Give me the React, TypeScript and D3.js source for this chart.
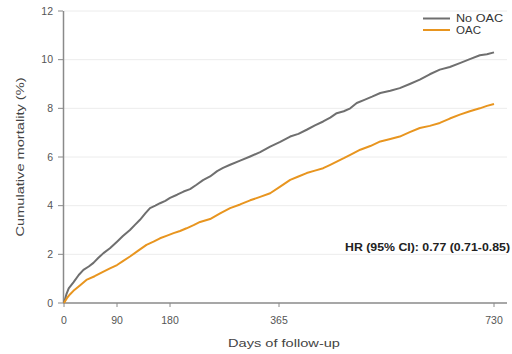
import React from "react";
import * as d3 from "d3";

const noOacDays = [0, 4, 8, 16, 25, 33, 42, 50, 58, 67, 78, 90, 100, 112, 120, 129, 138, 146, 155, 163, 172, 180, 192, 203, 214, 225, 236, 248, 260, 270, 282, 299, 316, 333, 350, 367, 384, 398, 412, 426, 440, 452, 463, 475, 486, 497, 510, 523, 537, 554, 570, 587, 604, 621, 638, 655, 672, 689, 706, 718, 730];
const noOacValues = [0, 0.35, 0.6, 0.85, 1.15, 1.36, 1.5, 1.65, 1.85, 2.05, 2.25, 2.52, 2.75, 3.0, 3.2, 3.42, 3.68, 3.9, 4.0, 4.1, 4.2, 4.32, 4.45, 4.58, 4.68, 4.86, 5.05, 5.2, 5.42, 5.55, 5.68, 5.85, 6.02, 6.2, 6.43, 6.62, 6.84, 6.95, 7.12, 7.3, 7.46, 7.62, 7.8, 7.88, 8.0, 8.22, 8.35, 8.48, 8.63, 8.72, 8.83, 9.0, 9.18, 9.4, 9.59, 9.7, 9.86, 10.02, 10.18, 10.22, 10.3];

const oacDays = [0, 5, 10, 16, 27, 38, 52, 67, 78, 90, 100, 112, 126, 140, 152, 163, 175, 186, 197, 208, 220, 231, 248, 265, 282, 299, 316, 333, 350, 367, 384, 398, 412, 426, 440, 452, 463, 475, 486, 503, 520, 537, 554, 570, 587, 604, 621, 638, 655, 672, 689, 706, 718, 730];
const oacValues = [0, 0.2, 0.35, 0.5, 0.72, 0.95, 1.1, 1.29, 1.42, 1.56, 1.72, 1.91, 2.15, 2.39, 2.52, 2.66, 2.77, 2.87, 2.96, 3.07, 3.2, 3.33, 3.45, 3.68, 3.9, 4.05, 4.22, 4.36, 4.51, 4.78, 5.06, 5.2, 5.34, 5.44, 5.54, 5.68, 5.81, 5.95, 6.09, 6.3, 6.45, 6.64, 6.74, 6.84, 7.02, 7.19, 7.28, 7.4, 7.58, 7.74, 7.88, 8.0, 8.1, 8.18];

const xTicks = [0, 90, 180, 365, 730];
const yTicks = [0, 2, 4, 6, 8, 10, 12];
const seriesNames = ["No OAC", "OAC"];
const seriesColors = ["#6f6f6f", "#e8951f"];
const hrLabel = "HR (95% CI): 0.77 (0.71-0.85)";

export default function App() {
  const W = 512, H = 354;
  const x = d3.scaleLinear().domain([0, 730]).range([64, 494]);
  const y = d3.scaleLinear().domain([0, 12]).range([303, 11]);
  const line = d3
    .line<[number, number]>()
    .x((d) => x(d[0]))
    .y((d) => y(d[1]))
    .curve(d3.curveLinear);
  const noOac = noOacDays.map((d, i) => [d, noOacValues[i]] as [number, number]);
  const oac = oacDays.map((d, i) => [d, oacValues[i]] as [number, number]);
  const font = "'Liberation Sans', Arial, sans-serif";
  const legendLens = [47, 25];

  return (
    <svg width={W} height={H} style={{ position: "absolute", left: 0, top: 0, background: "#fff" }} fontFamily={font}>
      {yTicks.filter((t) => t > 0).map((t) => (
        <line key={"g" + t} x1={64} x2={507} y1={y(t)} y2={y(t)} stroke="#ececec" strokeWidth={1} />
      ))}
      <line x1={63.5} x2={63.5} y1={y(12)} y2={y(0)} stroke="#8a8a8a" strokeWidth={1.5} />
      <line x1={63} x2={507} y1={y(0)} y2={y(0)} stroke="#8a8a8a" strokeWidth={1.5} />
      {yTicks.map((t) => (
        <g key={"y" + t}>
          <line x1={58} x2={63} y1={y(t)} y2={y(t)} stroke="#8a8a8a" strokeWidth={1} />
          <text x={53} y={y(t)} dy="0.35em" textAnchor="end" fontSize={10.5} fill="#555">
            {t}
          </text>
        </g>
      ))}
      {xTicks.map((t) => (
        <g key={"x" + t}>
          <line x1={x(t)} x2={x(t)} y1={y(0)} y2={y(0) + 4} stroke="#8a8a8a" strokeWidth={1} />
          <text x={x(t)} y={324} textAnchor="middle" fontSize={10.5} fill="#555">
            {t}
          </text>
        </g>
      ))}
      <text x={284} y={347} textAnchor="middle" fontSize={11.5} fill="#444" textLength={112} lengthAdjust="spacingAndGlyphs">
        Days of follow-up
      </text>
      <text transform="translate(24,157) rotate(-90)" textAnchor="middle" fontSize={11.5} fill="#444" textLength={159} lengthAdjust="spacingAndGlyphs">
        Cumulative mortality (%)
      </text>
      <path d={line(noOac) || ""} fill="none" stroke={seriesColors[0]} strokeWidth={2} strokeLinejoin="round" />
      <path d={line(oac) || ""} fill="none" stroke={seriesColors[1]} strokeWidth={2} strokeLinejoin="round" />
      {seriesNames.map((n, i) => (
        <g key={n}>
          <line x1={423} x2={450} y1={18.5 + i * 11.5} y2={18.5 + i * 11.5} stroke={seriesColors[i]} strokeWidth={2} />
          <text x={456} y={18.5 + i * 11.5} dy="0.35em" fontSize={10} fill="#333" textLength={legendLens[i]} lengthAdjust="spacingAndGlyphs">
            {n}
          </text>
        </g>
      ))}
      <text x={345} y={247} dy="0.35em" fontSize={10.5} fontWeight="bold" fill="#222" textLength={165} lengthAdjust="spacingAndGlyphs">
        {hrLabel}
      </text>
    </svg>
  );
}
